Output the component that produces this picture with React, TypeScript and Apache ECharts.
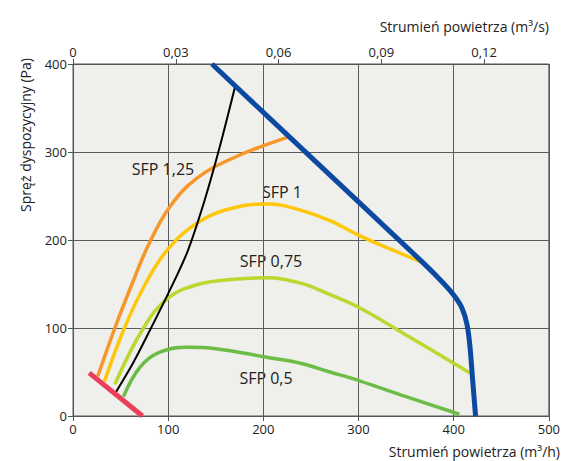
import React, { useEffect, useRef } from "react";
import * as echarts from "echarts";

const xTicks = [0, 100, 200, 300, 400, 500];
const yTicks = [0, 100, 200, 300, 400];
const topTicks = [0, 0.03, 0.06, 0.09, 0.12];

const maxCurve = [[146, 400], [257, 287], [368, 174], [390, 150], [401, 136], [409, 122], [414, 104], [417, 80], [420, 40], [423, 0]];
const sfp125 = [[26, 45], [44, 100], [62, 150], [80, 196], [102, 238], [130, 270], [170, 294], [226, 317]];
const sfp1 = [[33, 39], [54, 100], [76, 150], [100, 190], [133, 221], [170, 237], [207, 241], [239, 234], [270, 222], [301, 205], [335, 189], [368, 174]];
const sfp075 = [[44, 36], [74, 100], [100, 134], [133, 150], [170, 155.5], [203, 157], [239, 151], [270, 138], [301, 123], [350, 92], [400, 60], [417, 49]];
const sfp05 = [[53, 22], [70, 55], [90, 72], [120, 78], [150, 76.5], [202, 67], [239, 60], [270, 50], [301, 40], [350, 22], [406, 2]];
const workLine = [[45, 27], [64, 62], [82, 100], [100, 139], [120, 186], [138, 244], [154, 305], [170, 373]];
const minLine = [[17, 49], [73, 0]];

const curveLabels = [
  { text: "SFP 1,25", x: 163, y: 169 },
  { text: "SFP 1", x: 282, y: 192 },
  { text: "SFP 0,75", x: 271, y: 261 },
  { text: "SFP 0,5", x: 266, y: 378 },
];

const FONT = "'Open Sans', sans-serif";

export default function App() {
  const ref = useRef<HTMLDivElement>(null);
  useEffect(() => {
    const chart = echarts.init(ref.current!, null, { renderer: "svg" });
    const line = (data: number[][], color: string, width: number, smooth: number | boolean = 0.4) => ({
      type: "line",
      data,
      smooth,
      symbol: "none",
      xAxisIndex: 0,
      yAxisIndex: 0,
      lineStyle: { color, width, cap: "butt" },
      silent: true,
    });
    chart.setOption({
      animation: false,
      backgroundColor: "#ffffff",
      grid: {
        left: 73,
        right: 14,
        top: 64,
        bottom: 45,
        show: true,
        backgroundColor: "#efefeb",
        borderColor: "#555",
        borderWidth: 1,
      },
      xAxis: [
        {
          type: "value",
          min: xTicks[0],
          max: xTicks[xTicks.length - 1],
          interval: 100,
          position: "bottom",
          axisLine: { show: true, lineStyle: { color: "#555", width: 1 } },
          axisTick: { show: true, length: 5, lineStyle: { color: "#555" } },
          axisLabel: { color: "#222", fontSize: 13, fontFamily: FONT, margin: 6 },
          splitLine: { show: true, lineStyle: { color: "#5a5a5a", width: 1 } },
        },
        {
          type: "value",
          min: 0,
          max: 500 / 3600,
          interval: 0.03,
          position: "top",
          axisLine: { show: true, lineStyle: { color: "#555", width: 1 } },
          axisTick: { show: true, length: 5, lineStyle: { color: "#555" } },
          axisLabel: {
            color: "#222",
            fontSize: 13,
            fontFamily: FONT,
            margin: 6,
            showMaxLabel: false,
            formatter: (v: number) => {
              const t = topTicks.find((k) => Math.abs(k - v) < 1e-6);
              if (t === undefined) return "";
              return t === 0 ? "0" : t.toFixed(2).replace(".", ",");
            },
          },
          splitLine: { show: false },
        },
      ],
      yAxis: {
        type: "value",
        min: yTicks[0],
        max: yTicks[yTicks.length - 1],
        interval: 100,
        axisLine: { show: true, lineStyle: { color: "#555", width: 1 } },
        axisTick: { show: true, length: 5, lineStyle: { color: "#555" } },
        axisLabel: { color: "#222", fontSize: 13, fontFamily: FONT, margin: 6 },
        splitLine: { show: true, lineStyle: { color: "#5a5a5a", width: 1 } },
      },
      series: [
        line(sfp05, "#6cbd45", 3.5),
        line(sfp075, "#bdd630", 3.5),
        line(sfp1, "#fec70a", 3.5),
        line(sfp125, "#f7962b", 3.5),
        line(workLine, "#000000", 2, 0.3),
        line(maxCurve, "#0b4aa0", 5, 0.3),
        line(minLine, "#ea3f5b", 5, false),
      ],
      graphic: [
        ...curveLabels.map((l) => ({
          type: "text",
          x: l.x,
          y: l.y,
          silent: true,
          style: {
            text: l.text,
            fill: "#222",
            fontSize: 16,
            fontFamily: FONT,
            textAlign: "center",
            textVerticalAlign: "middle",
          },
        })),
        {
          type: "text",
          x: 549,
          y: 26,
          style: {
            text: "Strumień powietrza (m³/s)",
            fill: "#222",
            fontSize: 14,
            fontFamily: FONT,
            textAlign: "right",
            textVerticalAlign: "middle",
          },
        },
        {
          type: "text",
          x: 560,
          y: 451,
          style: {
            text: "Strumień powietrza (m³/h)",
            fill: "#222",
            fontSize: 14,
            fontFamily: FONT,
            textAlign: "right",
            textVerticalAlign: "middle",
          },
        },
        {
          type: "text",
          x: 25,
          y: 135,
          rotation: Math.PI / 2,
          style: {
            text: "Spręż dyspozycyjny (Pa)",
            fill: "#222",
            fontSize: 14,
            fontFamily: FONT,
            textAlign: "center",
            textVerticalAlign: "middle",
          },
        },
      ],
    });
    return () => chart.dispose();
  }, []);
  return <div ref={ref} style={{ width: 563, height: 461, position: "absolute", left: 0, top: 0 }} />;
}
